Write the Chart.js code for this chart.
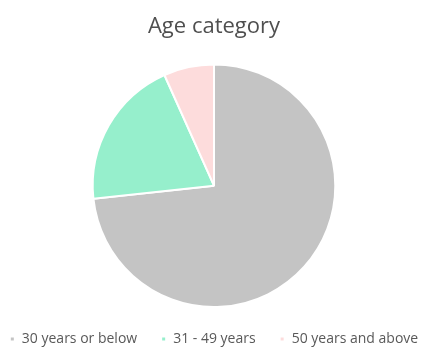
<!DOCTYPE html>
<html>
<head>
<meta charset="utf-8">
<script src="https://cdn.jsdelivr.net/npm/chart.js"></script>
<style>
  html, body { margin: 0; padding: 0; background: #fff; }
  #wrap { width: 428px; height: 355px; }
</style>
</head>
<body>
<div id="wrap"><canvas id="ageChart"></canvas></div>
<script>
// Age category
var ageLabels = ["30 years or below", "31 - 49 years", "50 years and above"];
var ageValues = [73.3, 20, 6.7];
var ageColors = ["#c4c4c4", "#96efcc", "#fddcdc"];

new Chart("ageChart", {
    type: "pie",
    data: {
        labels: ageLabels,
        datasets: [{
            backgroundColor: ageColors,
            borderColor: "#ffffff",
            borderWidth: 2,
            data: ageValues
        }]
    },
    options: {
        responsive: true,
        maintainAspectRatio: false,
        animation: false,
        layout: {
            // legend padding is wide, so let it spill past the side edges
            padding: { top: 0, bottom: -1, left: -20, right: -20 }
        },
        plugins: {
            title: {
                display: true,
                text: "Age category",
                color: "#4f4f4f",
                font: { family: "Open Sans", size: 22, weight: "normal" },
                padding: { top: 14, bottom: 23 }
            },
            legend: {
                position: "bottom",
                labels: {
                    color: "#595959",
                    font: { family: "Open Sans", size: 14 },
                    boxWidth: 5,
                    boxHeight: 5,
                    padding: 24
                }
            },
            tooltip: { enabled: false }
        }
    }
});
</script>
</body>
</html>
